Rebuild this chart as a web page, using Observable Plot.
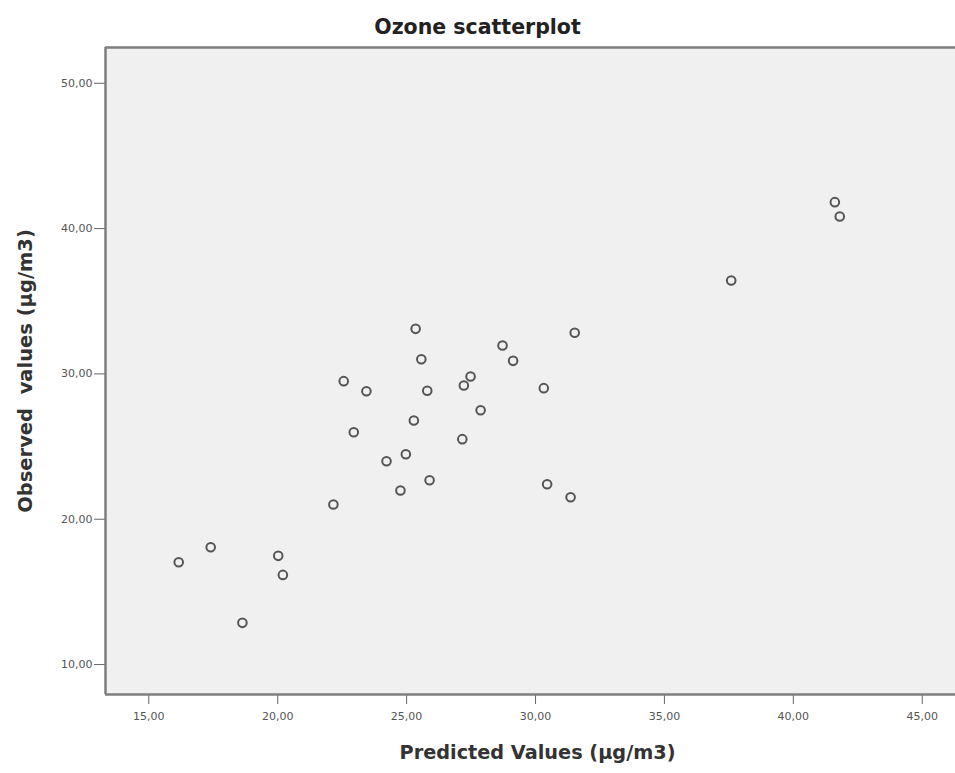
<!DOCTYPE html>
<html><head><meta charset="utf-8">
<script src="https://cdn.jsdelivr.net/npm/d3@7"></script>
<script src="https://cdn.jsdelivr.net/npm/@observablehq/plot@0.6"></script>
<style>
body{margin:0;background:#fff;}
svg text{white-space:pre;}
</style></head><body><div id="chart"></div>
<script>
const title = "Ozone scatterplot";
const xLabel = "Predicted Values (µg/m3)";
const yLabel = "Observed  values (µg/m3)";
const predicted = [16.16,17.40,18.63,20.02,20.20,22.16,22.56,22.95,23.44,24.22,24.97,24.76,25.35,25.28,25.57,25.80,25.89,27.16,27.22,27.48,27.87,28.72,29.13,30.32,30.45,31.36,31.52,37.59,41.61,41.80];
const observed  = [17.04,18.07,12.87,17.48,16.17,21.01,29.50,25.99,28.81,23.99,24.47,21.98,33.10,26.79,31.01,28.84,22.68,25.51,29.20,29.82,27.50,31.95,30.90,29.02,22.41,21.51,32.83,36.43,41.82,40.83];
const xTicks = [15,20,25,30,35,40,45];
const yTicks = [10,20,30,40,50];
const xDomain = [13.32, 46.29];
const yDomain = [7.94, 52.46];
const data = predicted.map((p,i)=>({p, o:observed[i]}));
const fmt = d => d3.format(".2f")(d).replace(".", ",");
const font = "'DejaVu Sans', Verdana, sans-serif";
const chart = Plot.plot({
  width:955, height:773, marginLeft:105, marginTop:47, marginBottom:79, marginRight:0,
  style:{fontFamily:font, background:"#fff"},
  x:{domain:xDomain}, y:{domain:yDomain},
  marks:[
    Plot.frame({fill:"#f0f0f0", stroke:null}),
    Plot.axisX(xTicks, {tickFormat:fmt, tickSize:10, tickPadding:8, fontSize:11, color:"#555", stroke:"#666", label:null}),
    Plot.axisY(yTicks, {tickFormat:fmt, tickSize:11, tickPadding:2, fontSize:11, color:"#555", stroke:"#666", label:null}),
    Plot.ruleX([xDomain[0]], {stroke:"#7e7e7e", strokeWidth:2.5}),
    Plot.ruleY(yDomain, {stroke:"#7e7e7e", strokeWidth:2.5}),
    Plot.dot(data, {x:"p", y:"o", r:4.3, stroke:"#555", strokeWidth:2, fill:"none"}),
    Plot.text([title], {frameAnchor:"top", dy:-20, dx:-53, textAnchor:"middle", lineAnchor:"middle", fontSize:20.5, fontWeight:"bold", fill:"#222"}),
    Plot.text([xLabel], {frameAnchor:"bottom", dy:58, dx:7, textAnchor:"middle", lineAnchor:"middle", fontSize:19.3, fontWeight:"bold", fill:"#333"}),
    Plot.text([yLabel], {frameAnchor:"left", dx:-80, rotate:-90, textAnchor:"middle", lineAnchor:"middle", fontSize:19.5, fontWeight:"bold", fill:"#333"})
  ]
});
document.getElementById("chart").append(chart);
</script></body></html>
